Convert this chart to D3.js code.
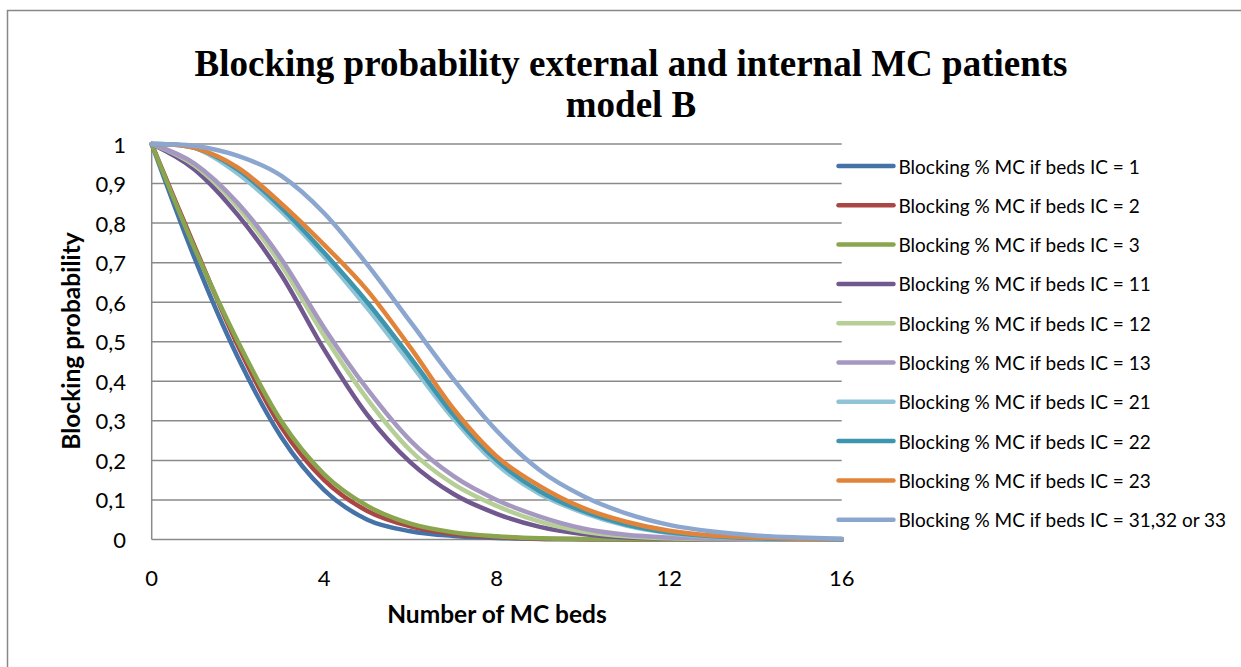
<!DOCTYPE html>
<html>
<head>
<meta charset="utf-8">
<script src="https://cdn.jsdelivr.net/npm/d3@7/dist/d3.min.js"></script>
<style>
  body { margin: 0; background: #fff; }
  svg { display: block; }
</style>
</head>
<body>
<div id="chart"></div>
<script>
// ==================== data ====================
const beds = [0, 1, 2, 3, 4, 5, 6, 7, 8, 9, 10, 11, 12, 13, 14, 15, 16];

const seriesNames = [
    "Blocking % MC if beds IC = 1",
    "Blocking % MC if beds IC = 2",
    "Blocking % MC if beds IC = 3",
    "Blocking % MC if beds IC = 11",
    "Blocking % MC if beds IC = 12",
    "Blocking % MC if beds IC = 13",
    "Blocking % MC if beds IC = 21",
    "Blocking % MC if beds IC = 22",
    "Blocking % MC if beds IC = 23",
    "Blocking % MC if beds IC = 31,32 or 33"
];

const ic1  = [1, 0.71, 0.46, 0.26, 0.125, 0.05, 0.021, 0.009, 0.004, 0.0015, 0.0005, 0.0002, 0, 0, 0, 0, 0];
const ic2  = [1, 0.74, 0.49, 0.285, 0.15, 0.072, 0.033, 0.014, 0.006, 0.002, 0.0008, 0.0003, 0, 0, 0, 0, 0];
const ic3  = [1, 0.735, 0.50, 0.30, 0.165, 0.085, 0.04, 0.018, 0.008, 0.003, 0.001, 0.0004, 0, 0, 0, 0, 0];
const ic11 = [1, 0.935, 0.82, 0.67, 0.48, 0.315, 0.195, 0.115, 0.065, 0.032, 0.014, 0.005, 0.002, 0.001, 0, 0, 0];
const ic12 = [1, 0.945, 0.84, 0.695, 0.515, 0.355, 0.225, 0.14, 0.085, 0.045, 0.02, 0.008, 0.003, 0.001, 0, 0, 0];
const ic13 = [1, 0.95, 0.85, 0.71, 0.535, 0.38, 0.25, 0.16, 0.10, 0.058, 0.028, 0.012, 0.005, 0.002, 0.001, 0, 0];
const ic21 = [1, 0.99, 0.925, 0.83, 0.715, 0.585, 0.445, 0.305, 0.19, 0.115, 0.068, 0.035, 0.016, 0.007, 0.003, 0.001, 0];
const ic22 = [1, 0.99, 0.935, 0.84, 0.725, 0.60, 0.46, 0.315, 0.20, 0.122, 0.072, 0.038, 0.018, 0.008, 0.003, 0.001, 0];
const ic23 = [1, 0.99, 0.94, 0.85, 0.745, 0.63, 0.485, 0.33, 0.21, 0.135, 0.08, 0.045, 0.022, 0.01, 0.005, 0.002, 0.001];
const ic3x = [1, 0.995, 0.97, 0.92, 0.825, 0.695, 0.55, 0.405, 0.275, 0.175, 0.11, 0.066, 0.037, 0.02, 0.01, 0.005, 0.002];

const seriesValues = [ic1, ic2, ic3, ic11, ic12, ic13, ic21, ic22, ic23, ic3x];

const seriesColors = ["#4572A7", "#AA4643", "#89A54E", "#71588F", "#B5CF96", "#A699C1",
                      "#90C3D6", "#3D96AE", "#E1843A", "#8CA7CF"];

const yTicks = [0, 0.1, 0.2, 0.3, 0.4, 0.5, 0.6, 0.7, 0.8, 0.9, 1];
const xTicks = [0, 4, 8, 12, 16];

// ==================== layout ====================
const W = 1241, H = 667;
const plot = {left: 151.7, right: 841.7, top: 144, bottom: 539.5};
const fontUI = "Lato, 'Open Sans', sans-serif";

const svg = d3.select("#chart").append("svg")
    .attr("width", W)
    .attr("height", H);

// outer chart border (right/bottom edges run off the picture)
svg.append("rect")
    .attr("x", 7.5).attr("y", 10.5)
    .attr("width", 1260).attr("height", 700)
    .attr("fill", "#fff")
    .attr("stroke", "#888")
    .attr("stroke-width", 1.5);

const x = d3.scaleLinear().domain([0, 16]).range([plot.left, plot.right]);
const y = d3.scaleLinear().domain([0, 1]).range([plot.bottom, plot.top]);

// gridlines
svg.append("g")
    .selectAll("line")
    .data(yTicks)
    .join("line")
    .attr("x1", plot.left).attr("x2", plot.right)
    .attr("y1", d => y(d)).attr("y2", d => y(d))
    .attr("stroke", "#8a8a8a")
    .attr("stroke-width", 1.5);

// y axis line
svg.append("line")
    .attr("x1", plot.left).attr("x2", plot.left)
    .attr("y1", plot.top).attr("y2", plot.bottom)
    .attr("stroke", "#8a8a8a")
    .attr("stroke-width", 1.5);

// tick labels (decimal comma)
const fmtComma = d => String(d).replace(".", ",");

svg.append("g")
    .selectAll("text")
    .data(yTicks)
    .join("text")
    .attr("x", 126)
    .attr("y", d => y(d))
    .attr("text-anchor", "end")
    .attr("dominant-baseline", "central")
    .style("font-family", fontUI)
    .style("font-size", "22px")
    .style("fill", "#000")
    .text(fmtComma);

svg.append("g")
    .selectAll("text")
    .data(xTicks)
    .join("text")
    .attr("x", d => x(d))
    .attr("y", 577)
    .attr("text-anchor", "middle")
    .attr("dominant-baseline", "central")
    .style("font-family", fontUI)
    .style("font-size", "22px")
    .style("fill", "#000")
    .text(d => d);

// axis titles
svg.append("text")
    .attr("transform", "translate(70,341) rotate(-90)")
    .attr("text-anchor", "middle")
    .attr("dominant-baseline", "central")
    .style("font-family", fontUI)
    .style("font-weight", "bold")
    .style("font-size", "24.5px")
    .text("Blocking probability");

svg.append("text")
    .attr("x", 497)
    .attr("y", 613)
    .attr("text-anchor", "middle")
    .attr("dominant-baseline", "central")
    .style("font-family", fontUI)
    .style("font-weight", "bold")
    .style("font-size", "24.5px")
    .text("Number of MC beds");

// title
const title = svg.append("text")
    .attr("text-anchor", "middle")
    .style("font-family", "'Liberation Serif', 'Times New Roman', serif")
    .style("font-weight", "bold")
    .style("font-size", "37px");
title.append("tspan").attr("x", 631).attr("y", 76)
    .text("Blocking probability external and internal MC patients");
title.append("tspan").attr("x", 631).attr("y", 117)
    .text("model B");

// smoothed series lines
const line = d3.line()
    .x((d, i) => x(beds[i]))
    .y(d => y(d))
    .curve(d3.curveCatmullRom.alpha(0));

svg.append("g")
    .selectAll("path")
    .data(seriesValues)
    .join("path")
    .attr("d", d => line(d))
    .attr("fill", "none")
    .attr("stroke", (d, i) => seriesColors[i])
    .attr("stroke-width", 4.5)
    .attr("stroke-linecap", "round")
    .attr("stroke-linejoin", "round");

// legend
const legend = svg.append("g")
    .selectAll("g")
    .data(seriesNames)
    .join("g")
    .attr("transform", (d, i) => `translate(838.5,${166 + i * 39.3})`);

legend.append("line")
    .attr("x1", 0).attr("x2", 55)
    .attr("stroke", (d, i) => seriesColors[i])
    .attr("stroke-width", 4.5)
    .attr("stroke-linecap", "round");

legend.append("text")
    .attr("x", 60)
    .attr("y", 0)
    .attr("dominant-baseline", "central")
    .style("font-family", fontUI)
    .style("font-size", "19px")
    .style("fill", "#000")
    .text(d => d);
</script>
</body>
</html>
